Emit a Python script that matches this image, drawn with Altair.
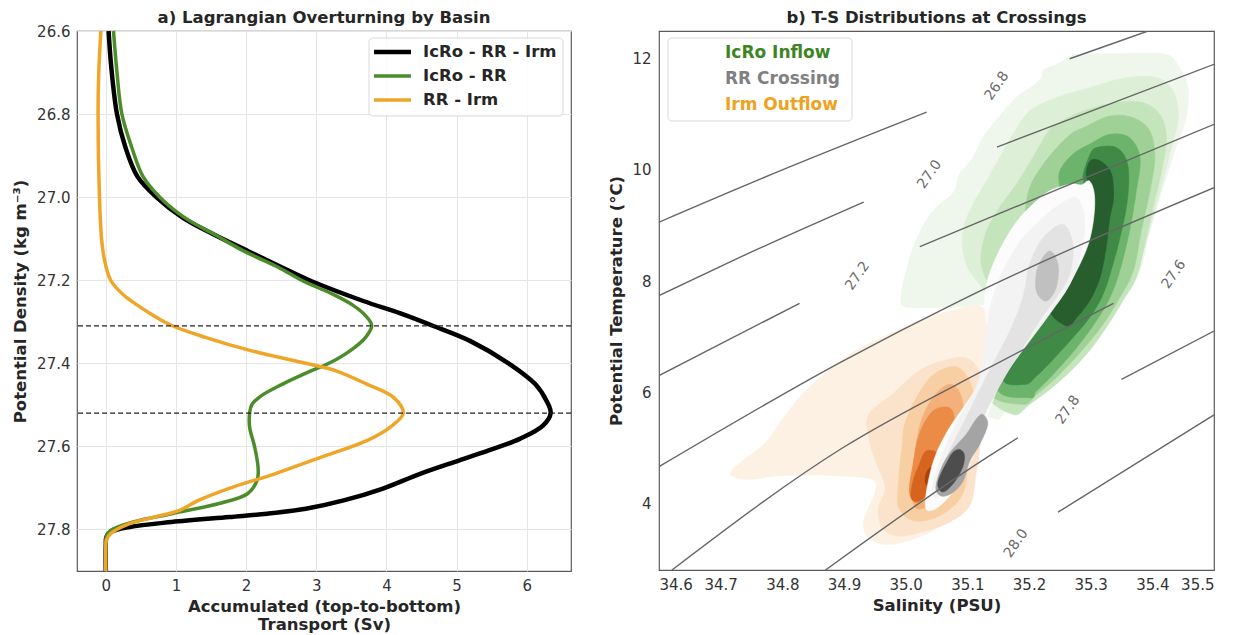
import altair as alt
import pandas as pd

FONT = "DejaVu Sans"

# ---------------- panel a: accumulated transport vs potential density ----------------
sigma_total = [26.60, 26.69, 26.80, 26.88, 26.95, 27.00, 27.05, 27.09, 27.13, 27.17, 27.20, 27.25,
               27.28, 27.309, 27.346, 27.40, 27.45, 27.49, 27.52, 27.55, 27.582, 27.606, 27.634,
               27.666, 27.702, 27.73, 27.75, 27.762, 27.77, 27.782, 27.794, 27.806, 27.818, 27.84, 27.90]
transport_total = [0.04, 0.08, 0.16, 0.28, 0.45, 0.72, 1.10, 1.54, 2.03, 2.52, 2.90, 3.67,
                   4.20, 4.65, 5.19, 5.74, 6.12, 6.28, 6.34, 6.23, 5.90, 5.52, 5.03,
                   4.48, 3.94, 3.39, 2.85, 2.30, 1.76, 0.94, 0.34, 0.07, 0.01, 0.0, 0.0]

sigma_icro_rr = [26.60, 26.70, 26.80, 26.88, 26.95, 27.00, 27.05, 27.09, 27.13, 27.17, 27.20, 27.235,
                 27.26, 27.285, 27.309, 27.338, 27.37, 27.40, 27.42, 27.45, 27.48, 27.50, 27.52, 27.554,
                 27.60, 27.65, 27.68, 27.714, 27.738, 27.762, 27.782, 27.802, 27.815, 27.84, 27.90]
transport_icro_rr = [0.11, 0.16, 0.23, 0.37, 0.53, 0.77, 1.13, 1.55, 1.97, 2.47, 2.79, 3.25,
                     3.52, 3.70, 3.79, 3.70, 3.48, 3.18, 2.90, 2.52, 2.20, 2.08, 2.05, 2.05,
                     2.12, 2.17, 2.16, 2.02, 1.60, 0.94, 0.39, 0.07, 0.01, 0.0, 0.0]

sigma_rr_irm = [26.60, 26.70, 26.80, 27.00, 27.10, 27.15, 27.20, 27.235, 27.26, 27.282, 27.309, 27.338,
                27.37, 27.40, 27.418, 27.45, 27.482, 27.52, 27.554, 27.586, 27.626, 27.666, 27.698,
                27.73, 27.754, 27.77, 27.786, 27.81, 27.825, 27.85, 27.90]
transport_rr_irm = [-0.07, -0.10, -0.11, -0.09, -0.06, -0.02, 0.07, 0.25, 0.45, 0.65, 0.94, 1.43,
                    2.08, 2.85, 3.28, 3.72, 4.10, 4.24, 4.05, 3.72, 3.07, 2.41, 1.81,
                    1.32, 1.05, 0.70, 0.34, 0.07, 0.01, 0.0, 0.0]

series_names = ["IcRo - RR - Irm", "IcRo - RR", "RR - Irm"]
series_colors = ["#000000", "#4c8c2b", "#efa528"]
series_widths = [4.5, 3.5, 3.5]
dashed_sigma = [27.31, 27.52]
sigma_ticks = [26.6, 26.8, 27.0, 27.2, 27.4, 27.6, 27.8]
transport_ticks = [0, 1, 2, 3, 4, 5, 6]

# ---------------- panel b: T-S distributions (salinity, temperature) ----------------
salinity_ticks = [34.6, 34.7, 34.8, 34.9, 35.0, 35.1, 35.2, 35.3, 35.4, 35.5]
temperature_ticks = [4, 6, 8, 10, 12]

# isopycnal contour segments (S, T), broken where the inline labels sit
iso_268_a = [(34.600, 9.06), (34.800, 10.00), (35.034, 11.04)]
iso_268_b = [(35.266, 12.00), (35.393, 12.50)]
iso_270_a = [(34.600, 7.74), (34.718, 8.36), (34.932, 9.42)]
iso_270_b = [(35.148, 10.41), (35.500, 11.90)]
iso_272_a = [(34.600, 6.30), (34.828, 7.60)]
iso_272_b = [(35.023, 8.62), (35.500, 10.82)]
iso_274 = [(34.600, 4.66), (34.898, 6.56), (35.087, 7.64), (35.500, 9.68)]
iso_276 = [(34.621, 2.80), (34.898, 5.00), (35.135, 6.44), (35.337, 7.60)]
iso_278_a = [(34.870, 2.80), (35.135, 4.85), (35.182, 5.18)]
iso_278_b = [(35.350, 6.23), (35.500, 7.10)]
iso_280_b = [(35.247, 3.84), (35.500, 5.59)]

iso_label_text = ["26.8", "27.0", "27.2", "27.6", "27.8", "28.0"]
iso_label_S = [35.148, 35.039, 34.922, 35.435, 35.263, 35.179]
iso_label_T = [11.51, 9.92, 8.09, 8.12, 5.68, 3.28]

# IcRo inflow density contours (outer -> inner)
icro_1 = [(35.277, 12.08), (35.331, 12.09), (35.385, 12.10), (35.426, 12.07), (35.444, 11.84),
          (35.458, 11.48), (35.455, 10.94), (35.442, 10.52), (35.426, 9.98), (35.409, 9.38),
          (35.393, 8.78), (35.380, 8.18), (35.352, 7.76), (35.320, 7.22), (35.288, 6.74),
          (35.244, 6.26), (35.201, 5.96), (35.163, 5.66), (35.147, 5.51), (35.114, 5.84),
          (35.150, 6.92), (35.141, 7.52), (35.104, 7.54), (35.049, 7.52), (34.998, 7.54),
          (34.993, 7.76), (35.001, 8.18), (35.014, 8.66), (35.036, 9.14), (35.055, 9.38),
          (35.079, 9.62), (35.087, 9.92), (35.109, 10.22), (35.125, 10.58), (35.150, 10.94),
          (35.179, 11.30), (35.206, 11.51), (35.220, 11.66), (35.225, 11.81), (35.239, 11.87),
          (35.255, 11.96)]
icro_2 = [(35.201, 11.06), (35.244, 11.30), (35.298, 11.48), (35.358, 11.66), (35.407, 11.66),
          (35.434, 11.42), (35.442, 10.94), (35.431, 10.40), (35.417, 9.80), (35.401, 9.14),
          (35.385, 8.54), (35.369, 8.12), (35.339, 7.76), (35.309, 7.22), (35.277, 6.74),
          (35.233, 6.26), (35.190, 5.93), (35.163, 5.72), (35.131, 6.02), (35.155, 7.10),
          (35.131, 7.76), (35.098, 8.30), (35.093, 8.90), (35.109, 9.38), (35.131, 9.80),
          (35.152, 10.22), (35.174, 10.64)]
icro_3 = [(35.244, 10.82), (35.288, 11.06), (35.342, 11.21), (35.385, 11.21), (35.412, 11.00),
          (35.423, 10.58), (35.415, 9.98), (35.401, 9.32), (35.388, 8.66), (35.374, 8.06),
          (35.352, 7.64), (35.325, 7.16), (35.293, 6.68), (35.250, 6.20), (35.201, 5.78),
          (35.174, 5.60), (35.131, 6.02), (35.158, 7.10), (35.141, 7.70), (35.136, 7.88),
          (35.122, 8.36), (35.131, 8.90), (35.152, 9.32), (35.179, 9.74), (35.206, 10.22),
          (35.228, 10.64)]
icro_4 = [(35.288, 10.76), (35.331, 10.97), (35.369, 10.94), (35.396, 10.70), (35.404, 10.22),
          (35.396, 9.62), (35.382, 8.90), (35.369, 8.18), (35.347, 7.70), (35.320, 7.22),
          (35.285, 6.74), (35.244, 6.26), (35.212, 5.96), (35.190, 5.78), (35.136, 6.02),
          (35.169, 7.10), (35.190, 8.90), (35.193, 9.17), (35.201, 9.68), (35.223, 10.10),
          (35.250, 10.46), (35.271, 10.67)]
icro_5 = [(35.298, 10.46), (35.331, 10.64), (35.363, 10.58), (35.380, 10.22), (35.374, 9.62),
          (35.363, 8.90), (35.347, 8.18), (35.331, 7.70), (35.309, 7.28), (35.277, 6.80),
          (35.239, 6.32), (35.212, 6.02), (35.201, 5.90), (35.147, 6.14), (35.201, 7.70),
          (35.255, 8.90), (35.250, 9.65), (35.250, 9.98), (35.271, 10.28)]
icro_6 = [(35.309, 10.40), (35.342, 10.40), (35.360, 10.10), (35.360, 9.50), (35.350, 8.90),
          (35.336, 8.30), (35.320, 7.76), (35.298, 7.34), (35.271, 6.98), (35.239, 6.59),
          (35.212, 6.29), (35.193, 6.14), (35.158, 6.32), (35.223, 7.70), (35.277, 8.90),
          (35.288, 9.68), (35.288, 9.92), (35.298, 10.25)]
icro_7 = [(35.304, 10.19), (35.320, 10.13), (35.334, 9.92), (35.337, 9.50), (35.331, 9.14),
          (35.325, 8.60), (35.315, 8.06), (35.298, 7.64), (35.277, 7.34), (35.261, 7.19),
          (35.233, 7.58), (35.277, 8.60), (35.298, 9.38), (35.296, 9.74), (35.293, 9.92),
          (35.296, 10.10)]

# Irm outflow density contours (outer -> inner)
irm_1 = [(34.716, 4.52), (34.735, 4.76), (34.772, 5.09), (34.802, 5.54), (34.832, 5.96),
         (34.870, 6.35), (34.913, 6.71), (34.951, 6.93), (34.989, 7.13), (35.032, 7.33),
         (35.075, 7.47), (35.119, 7.55), (35.140, 7.28), (35.143, 6.68), (35.135, 5.96),
         (35.119, 5.24), (35.111, 4.52), (35.102, 4.04), (35.075, 3.74), (35.032, 3.44),
         (34.978, 3.26), (34.943, 3.35), (34.931, 3.62), (34.940, 3.92), (34.951, 4.22),
         (34.946, 4.43), (34.897, 4.49), (34.843, 4.51), (34.789, 4.49), (34.745, 4.43)]
irm_2 = [(34.940, 5.60), (34.978, 5.96), (35.021, 6.38), (35.059, 6.56), (35.097, 6.62),
         (35.119, 6.38), (35.127, 5.84), (35.121, 5.06), (35.113, 4.46), (35.105, 3.98),
         (35.075, 3.68), (35.032, 3.50), (34.989, 3.41), (34.962, 3.56), (34.956, 3.92),
         (34.967, 4.28), (34.951, 4.76), (34.940, 5.18)]
irm_3 = [(35.000, 5.48), (35.027, 6.08), (35.054, 6.38), (35.086, 6.44), (35.108, 6.08),
         (35.111, 5.48), (35.102, 4.76), (35.092, 4.16), (35.059, 3.80), (35.016, 3.68),
         (34.989, 3.92), (34.989, 4.46), (34.994, 5.00)]
irm_4 = [(35.027, 5.54), (35.048, 5.96), (35.075, 6.14), (35.092, 5.84), (35.089, 5.24),
         (35.075, 4.52), (35.048, 4.04), (35.016, 3.92), (35.011, 4.40), (35.016, 5.00)]
irm_5 = [(35.044, 5.66), (35.071, 5.72), (35.079, 5.48), (35.071, 5.06), (35.055, 4.64),
         (35.039, 4.22), (35.017, 4.01), (35.006, 4.22), (35.012, 4.70), (35.022, 5.24)]
irm_6 = [(35.033, 4.94), (35.052, 4.88), (35.049, 4.52), (35.039, 4.22), (35.022, 4.04),
         (35.009, 4.10), (35.012, 4.40), (35.022, 4.70)]
irm_7 = [(35.039, 4.64), (35.049, 4.58), (35.044, 4.34), (35.033, 4.34), (35.032, 4.49)]

# RR crossing density contours (outer -> inner)
rr_1 = [(35.298, 9.80), (35.306, 9.56), (35.305, 9.14), (35.296, 8.66), (35.277, 8.18),
        (35.255, 7.76), (35.223, 7.34), (35.190, 6.80), (35.158, 6.26), (35.141, 5.84),
        (35.125, 5.30), (35.106, 4.76), (35.082, 4.28), (35.055, 3.95), (35.036, 3.87),
        (35.032, 4.04), (35.038, 4.46), (35.049, 4.88), (35.071, 5.36), (35.101, 5.84),
        (35.125, 6.26), (35.136, 6.62), (35.133, 7.10), (35.128, 7.52), (35.131, 7.94),
        (35.144, 8.36), (35.163, 8.78), (35.185, 9.14), (35.212, 9.44), (35.233, 9.62),
        (35.255, 9.71), (35.271, 9.75), (35.285, 9.73)]
rr_2 = [(35.277, 9.50), (35.290, 9.14), (35.285, 8.54), (35.266, 7.94), (35.233, 7.40),
        (35.201, 6.92), (35.169, 6.44), (35.141, 5.96), (35.120, 5.48), (35.098, 5.00),
        (35.076, 4.58), (35.060, 4.22), (35.047, 4.10), (35.044, 4.34), (35.055, 4.76),
        (35.071, 5.18), (35.090, 5.60), (35.112, 6.02), (35.125, 6.50), (35.131, 7.10),
        (35.141, 7.70), (35.163, 8.30), (35.190, 8.78), (35.223, 9.14), (35.250, 9.38)]
rr_3 = [(35.255, 9.02), (35.271, 8.66), (35.266, 8.12), (35.244, 7.70), (35.217, 7.28),
        (35.190, 6.80), (35.163, 6.32), (35.136, 5.78), (35.112, 5.24), (35.087, 4.76),
        (35.071, 4.40), (35.058, 4.28), (35.060, 4.64), (35.076, 5.06), (35.098, 5.54),
        (35.114, 5.90), (35.141, 6.50), (35.169, 7.10), (35.190, 7.70), (35.201, 8.30),
        (35.223, 8.78)]
rr_4_upper = [(35.233, 8.54), (35.247, 8.30), (35.244, 7.88), (35.228, 7.64), (35.212, 7.82),
              (35.214, 8.24)]
rr_4_lower = [(35.125, 5.60), (35.133, 5.42), (35.120, 5.06), (35.104, 4.76), (35.093, 4.40),
              (35.076, 4.19), (35.058, 4.13), (35.049, 4.28), (35.058, 4.64), (35.074, 4.94),
              (35.098, 5.24), (35.114, 5.51)]
rr_5 = [(35.087, 4.97), (35.095, 4.88), (35.093, 4.67), (35.082, 4.43), (35.068, 4.25),
        (35.058, 4.21), (35.052, 4.34), (35.058, 4.55), (35.068, 4.76), (35.076, 4.91)]

icro_levels = [icro_1, icro_2, icro_3, icro_4, icro_5, icro_6, icro_7]
icro_colors = ["#eff7ec", "#deefd7", "#c4e4bb", "#9fd196", "#6cb46b", "#3f8a47", "#285d2d"]
irm_levels = [irm_1, irm_2, irm_3, irm_4, irm_5, irm_6, irm_7]
irm_colors = ["#fdf1e4", "#fbe3cb", "#f8cea3", "#f3b07a", "#eb8b46", "#d6641e", "#a8430d"]
rr_levels = [rr_1, rr_2, rr_3, rr_4_upper, rr_4_lower, rr_5]
rr_colors = ["#fcfcfc", "#f3f3f3", "#e3e3e3", "#c0c0c0", "#a4a4a4", "#4d4d4d"]

legend_b_names = ["IcRo Inflow", "RR Crossing", "Irm Outflow"]
legend_b_colors = ["#3d861f", "#808080", "#eea21f"]

# ---------------- panel a chart ----------------
xL = alt.X("transport:Q",
           scale=alt.Scale(domain=[-0.41, 6.63], nice=False, zero=False),
           axis=alt.Axis(values=transport_ticks, format="d", grid=True,
                         title=["Accumulated (top-to-bottom)", "Transport (Sv)"]))
yL = alt.Y("sigma:Q",
           scale=alt.Scale(domain=[26.6, 27.9], reverse=True, nice=False, zero=False),
           axis=alt.Axis(values=sigma_ticks, format=".1f", grid=True,
                         title="Potential Density (kg m\u207b\u00b3)", titlePadding=8))

curves = []
for sig, trn, name, col, w in zip([sigma_total, sigma_icro_rr, sigma_rr_irm],
                                  [transport_total, transport_icro_rr, transport_rr_irm],
                                  series_names, series_colors, series_widths):
    df = pd.DataFrame({"sigma": sig, "transport": trn, "series": name})
    curves.append(alt.Chart(df).mark_line(color=col, strokeWidth=w, interpolate="catmull-rom")
                  .encode(x=xL, y=yL, order=alt.Order("sigma:Q")))

dashed = alt.Chart(pd.DataFrame({"sigma": dashed_sigma})).mark_rule(
    color="#222222", strokeDash=[5, 3], strokeWidth=1.3).encode(y=yL)

one = pd.DataFrame({"a": [0]})
leg_a = [alt.Chart(one).mark_rect(fill="white", fillOpacity=0.85, stroke="#d9d9d9", strokeWidth=1,
                                  cornerRadius=4)
         .encode(x=alt.value(292), x2=alt.value(486), y=alt.value(7), y2=alt.value(85))]
for i, (name, col, w) in enumerate(zip(series_names, series_colors, series_widths)):
    yy = 21 + 24 * i
    leg_a.append(alt.Chart(one).mark_rule(color=col, strokeWidth=w)
                 .encode(x=alt.value(297), x2=alt.value(334), y=alt.value(yy)))
    leg_a.append(alt.Chart(one).mark_text(text=name, align="left", baseline="middle", font=FONT,
                                          fontSize=16.5, fontWeight="bold", color="#262626")
                 .encode(x=alt.value(346), y=alt.value(yy)))

TITLE_KW = dict(font=FONT, fontSize=16.5, fontWeight="bold", color="#262626", frame="group")

left = alt.layer(*curves, dashed, *leg_a).properties(
    width=494, height=540,
    title=alt.TitleParams("a) Lagrangian Overturning by Basin", offset=-4, **TITLE_KW))

# ---------------- panel b chart ----------------
xS = alt.X("S:Q", scale=alt.Scale(domain=[34.6, 35.5], nice=False, zero=False),
           axis=alt.Axis(values=salinity_ticks, format=".1f", grid=False, title="Salinity (PSU)"))
yT = alt.Y("T:Q", scale=alt.Scale(domain=[2.8, 12.5], nice=False, zero=False),
           axis=alt.Axis(values=temperature_ticks, format="d", grid=False, labelPadding=8,
                         titlePadding=7, title="Potential Temperature (\u00b0C)"))


def poly(pts, color):
    df = pd.DataFrame({"S": [p[0] for p in pts], "T": [p[1] for p in pts],
                       "i": list(range(len(pts)))})
    return alt.Chart(df).mark_line(interpolate="cardinal-closed", fill=color, stroke=color,
                                   strokeWidth=0.6, clip=True).encode(
        x=xS, y=yT, order=alt.Order("i:Q"))


polys = []
for lv, c in zip(icro_levels, icro_colors):
    polys.append(poly(lv, c))
for lv, c in zip(irm_levels, irm_colors):
    polys.append(poly(lv, c))
for lv, c in zip(rr_levels, rr_colors):
    polys.append(poly(lv, c))

iso_segments = {"26.8a": iso_268_a, "26.8b": iso_268_b, "27.0a": iso_270_a, "27.0b": iso_270_b,
                "27.2a": iso_272_a, "27.2b": iso_272_b, "27.4": iso_274, "27.6": iso_276,
                "27.8a": iso_278_a, "27.8b": iso_278_b, "28.0b": iso_280_b}
rows = []
for k, seg in iso_segments.items():
    for j, (s, t) in enumerate(seg):
        rows.append({"seg": k, "i": j, "S": s, "T": t})
iso_df = pd.DataFrame(rows)
isolines = alt.Chart(iso_df).mark_line(color="#666666", strokeWidth=1.4, interpolate="monotone",
                                       clip=True).encode(
    x=xS, y=yT, detail="seg:N", order=alt.Order("i:Q"))

iso_labels = alt.Chart(pd.DataFrame({"S": iso_label_S, "T": iso_label_T, "label": iso_label_text})
                       ).mark_text(angle=305, font=FONT, fontSize=14, color="#6a6a6a").encode(
    x=xS, y=yT, text="label:N")

leg_b = [alt.Chart(one).mark_rect(fill="white", fillOpacity=0.85, stroke="#d9d9d9", strokeWidth=1,
                                  cornerRadius=4)
         .encode(x=alt.value(9), x2=alt.value(193), y=alt.value(7), y2=alt.value(90))]
for i, (name, col) in enumerate(zip(legend_b_names, legend_b_colors)):
    leg_b.append(alt.Chart(one).mark_text(text=name, align="left", baseline="middle", font=FONT,
                                          fontSize=17, fontWeight="bold", color=col)
                 .encode(x=alt.value(66), y=alt.value(22 + 26 * i)))

right = alt.layer(*polys, isolines, iso_labels, *leg_b).properties(
    width=555, height=539,
    title=alt.TitleParams("b) T-S Distributions at Crossings", offset=5, **TITLE_KW))

chart = alt.hconcat(left, right, spacing=35).properties(
    padding={"left": 4, "top": 0, "right": 5, "bottom": 0}
).configure_axis(
    labelFont=FONT, labelFontSize=15, labelColor="#333333",
    titleFont=FONT, titleFontSize=16.5, titleFontWeight="bold", titleColor="#262626",
    domain=False, ticks=False, labelPadding=7, gridColor="#e5e5e5", gridWidth=1
).configure_axisX(titlePadding=5, titleLineHeight=18).configure_view(
    stroke="#5a5a5a", strokeWidth=1.2
)

chart.save("out.html", embed_options={"renderer": "svg", "actions": False})
